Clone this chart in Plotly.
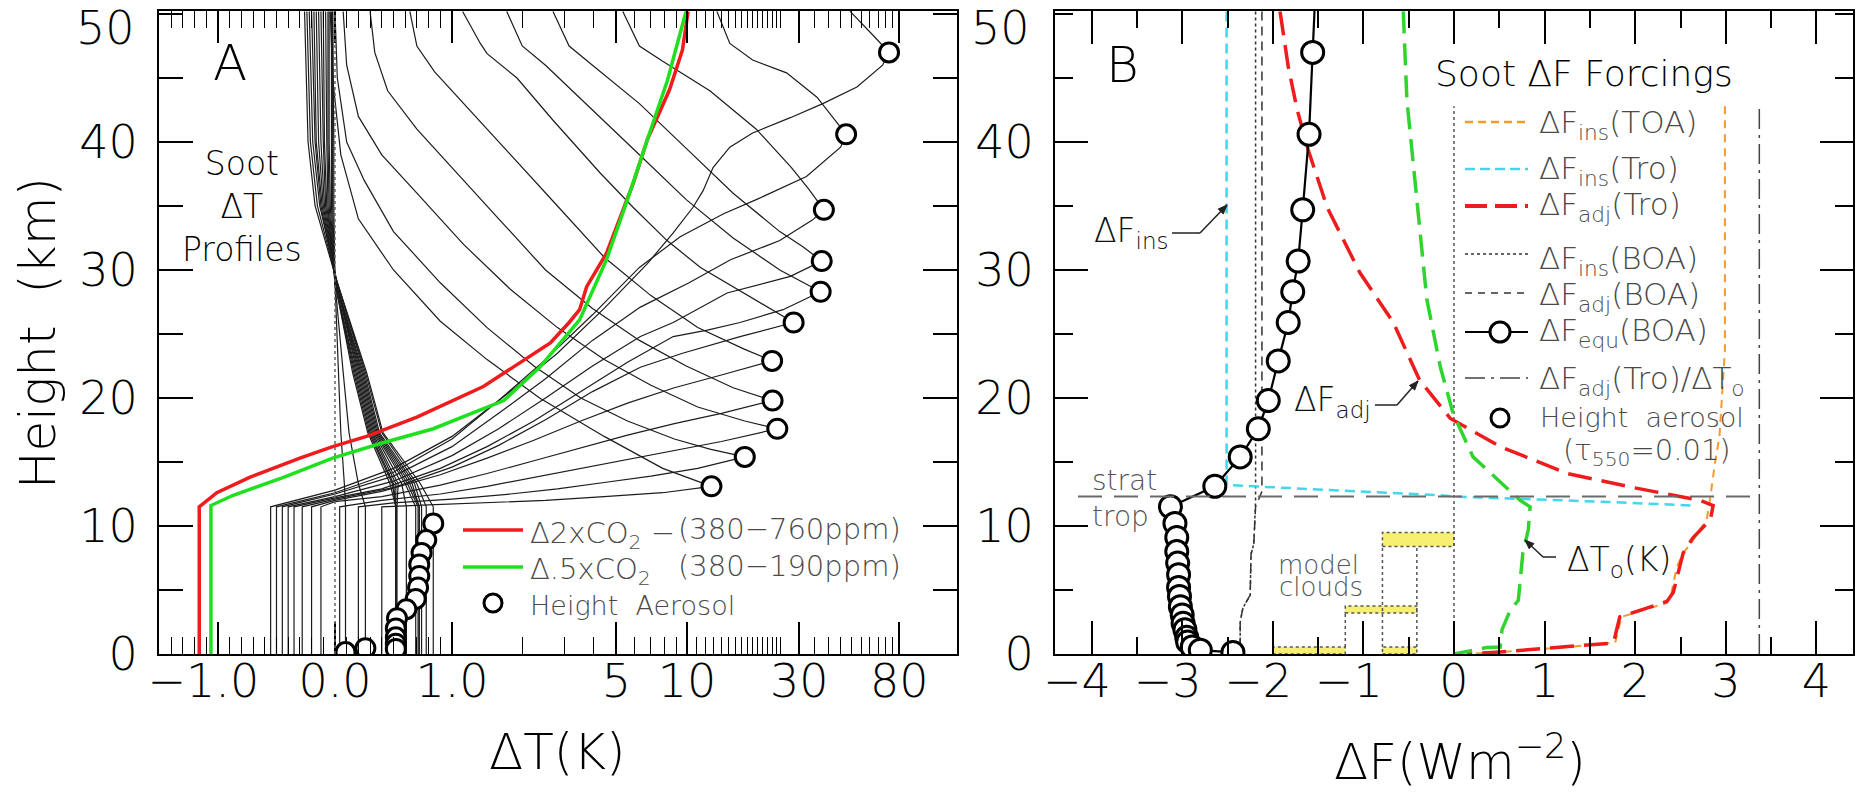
import numpy as np
import plotly.graph_objects as go

W, H = 1864, 794
FONT = "DejaVu Sans"
GRAY = "#4a4a4a"

# ------------------------------------------------------------------ Panel A data
LOG_STRETCH = 2.009          # x-scale: linear for dT <= 1 K, logarithmic above
TROPOPAUSE_A_KM = 11.5

STRAT_AEROSOL_KM = [47.0, 40.6, 34.7, 30.7, 28.3, 25.9, 22.9, 19.8, 17.6, 15.4, 13.1]
STRAT_PEAK_DT = [72.3, 47.5, 38.2, 37.4, 37.0, 28.4, 23.0, 23.1, 24.2, 17.6, 12.7]
STRAT_TROP_DT = [-0.55, -0.50, -0.45, -0.40, -0.35, -0.28, -0.20, -0.12, 0.04, 0.20, 0.40]

STRAT_LOWER_DT = [
    [0.0, 0.5, 1.0, 1.77, 2.81, 4.44, 6.78, 8.73, 10.6, 11.7, 12.9, 15.2, 19.0, 27.5, 37.8, 52.8, 67.9],
    [0.0, 0.5, 1.0, 1.58, 2.50, 3.96, 6.27, 9.35, 14.3, 19.7, 32.2, 45.0],
    [0.0, 0.5, 1.0, 1.58, 2.50, 3.96, 6.33, 10.2, 15.3, 24.8, 34.1],
    [0.0, 0.5, 1.0, 1.58, 2.50, 3.96, 6.33, 8.73, 14.8, 27.5],
    [0.0, 0.4, 0.9, 1.41, 2.23, 3.53, 5.58, 8.73, 12.2, 16.8, 25.6],
    [0.0, 0.5, 1.0, 1.58, 2.50, 3.96, 6.33, 9.57, 16.8],
    [0.0, 0.4, 0.9, 1.41, 2.23, 3.53, 5.58, 8.83, 14.0],
    [0.0, 0.4, 0.9, 1.41, 2.23, 3.53, 5.58, 8.83, 14.0],
    [0.4, 0.9, 1.41, 2.23, 3.53, 5.58, 8.83, 14.0],
    [0.5, 1.0, 1.77, 2.81, 4.44, 7.02, 11.1],
    [0.8, 1.41, 2.50, 4.44, 7.88],
]
STRAT_LOWER_KM = [
    [12.8, 14.5, 17.0, 20.5, 23.5, 27.0, 30.5, 32.9, 34.9, 36.2, 38.0, 39.6, 40.7, 41.9, 43.0, 44.3, 46.0],
    [12.6, 14.2, 16.8, 19.8, 23.0, 26.5, 30.2, 32.6, 34.4, 35.5, 37.3, 39.6],
    [12.5, 13.9, 16.2, 18.8, 21.5, 24.5, 27.1, 29.0, 30.8, 32.3, 33.9],
    [12.3, 13.5, 15.5, 17.6, 20.0, 22.5, 24.8, 25.9, 28.2, 29.5],
    [12.2, 12.9, 14.5, 16.2, 18.2, 20.5, 22.8, 24.8, 25.3, 25.9, 26.9],
    [12.1, 13.0, 14.6, 16.3, 18.3, 20.5, 22.4, 23.5, 24.8],
    [12.0, 12.7, 14.0, 15.3, 16.7, 18.2, 19.6, 20.8, 21.8],
    [11.9, 12.3, 13.2, 14.1, 15.1, 16.1, 17.1, 18.0, 18.8],
    [12.0, 12.5, 13.1, 13.8, 14.5, 15.2, 15.9, 16.6],
    [11.8, 12.1, 12.5, 12.9, 13.4, 13.9, 14.5],
    [11.65, 11.8, 12.0, 12.3, 12.6],
]
STRAT_UPPER_DT = [
    [62.1, 49.4],
    [35.7, 26.5, 19.0, 15.2, 13.4],
    [33.0, 27.8, 19.7, 12.5, 7.88, 6.27, 5.33],
    [31.2, 24.8, 15.7, 9.92, 6.27, 3.96, 3.15, 2.69],
    [31.2, 24.8, 15.7, 9.92, 6.27, 3.96, 2.50, 1.99, 1.71],
    [11.4, 8.22, 5.89, 4.26, 2.69, 1.89, 1.41, 1.32, 1.11],
    [17.6, 11.1, 7.02, 4.44, 2.81, 1.77, 1.12, 0.85, 0.70, 0.64],
    [15.7, 9.92, 6.27, 3.96, 2.50, 1.58, 1.0, 0.70, 0.45, 0.34, 0.30],
    [17.6, 11.1, 7.02, 4.44, 2.81, 1.77, 1.12, 0.70, 0.40, 0.20, 0.10, 0.07],
    [12.5, 8.83, 5.58, 3.53, 2.23, 1.41, 0.90, 0.50, 0.25, 0.10, 0.02, 0.0],
    [9.92, 7.88, 4.44, 2.36, 1.41, 0.90, 0.50, 0.20, 0.05, -0.02, -0.04],
]
STRAT_UPPER_KM = [
    [48.3, 50.2],
    [43.5, 45.4, 46.4, 47.7, 50.2],
    [36.3, 38.0, 41.0, 44.0, 46.3, 47.5, 50.2],
    [31.8, 33.0, 36.0, 39.5, 43.0, 46.0, 47.5, 50.2],
    [29.0, 30.0, 32.5, 35.5, 39.0, 42.5, 46.0, 47.5, 50.2],
    [30.2, 32.3, 34.9, 37.6, 41.7, 45.0, 46.9, 47.7, 50.2],
    [23.8, 25.5, 28.0, 31.0, 35.0, 39.0, 43.0, 45.5, 47.5, 50.2],
    [20.8, 22.5, 24.5, 27.0, 30.0, 34.0, 38.0, 41.0, 44.0, 47.0, 50.2],
    [18.2, 19.3, 21.0, 23.0, 25.5, 28.5, 32.0, 36.0, 39.0, 42.0, 46.0, 50.2],
    [16.0, 16.8, 18.2, 20.0, 22.5, 25.5, 29.0, 33.0, 37.0, 40.0, 45.0, 50.2],
    [13.8, 14.5, 17.0, 20.0, 23.0, 26.0, 30.0, 34.0, 39.0, 45.0, 50.2],
]

TROP_AEROSOL_KM = [10.2, 8.9, 7.9, 7.0, 6.1, 5.2, 4.3, 3.5, 2.8, 2.0, 1.3, 0.8, 0.4, 0.45, 0.15]
TROP_SURFACE_DT = [0.84, 0.78, 0.74, 0.72, 0.72, 0.71, 0.69, 0.61, 0.53, 0.52, 0.52, 0.52, 0.52, 0.26, 0.09]
TROP_STRAT_KM = [13.3, 17.3, 22.0, 29.0, 35.0, 40.0, 50.2]
TROP_STRAT_DT = [
    [0.73, 0.41, 0.27, 0.02, -0.17, -0.23, -0.26],
    [0.70, 0.40, 0.26, 0.02, -0.15, -0.21, -0.24],
    [0.68, 0.38, 0.25, 0.02, -0.13, -0.19, -0.22],
    [0.66, 0.37, 0.24, 0.01, -0.12, -0.17, -0.20],
    [0.64, 0.36, 0.23, 0.01, -0.11, -0.16, -0.18],
    [0.62, 0.35, 0.22, 0.01, -0.10, -0.14, -0.16],
    [0.60, 0.34, 0.21, 0.01, -0.09, -0.12, -0.14],
    [0.57, 0.33, 0.20, 0.01, -0.08, -0.10, -0.12],
    [0.54, 0.32, 0.19, 0.01, -0.07, -0.09, -0.10],
    [0.52, 0.31, 0.18, 0.00, -0.06, -0.07, -0.08],
    [0.50, 0.30, 0.17, 0.00, -0.05, -0.06, -0.06],
    [0.49, 0.29, 0.16, 0.00, -0.04, -0.05, -0.05],
    [0.47, 0.28, 0.15, 0.00, -0.03, -0.03, -0.03],
    [0.20, 0.12, 0.07, 0.00, -0.02, -0.02, -0.02],
    [0.08, 0.05, 0.03, 0.00, -0.01, -0.01, -0.02],
]

CO2_X2_DT = [-1.16, -1.16, -1.01, -0.73, -0.30, -0.02, 0.27, 0.70, 1.36, 2.62, 3.15, 3.49, 3.74, 4.54, 5.91, 6.78, 8.43, 9.56, 10.1]
CO2_X2_KM = [0.0, 11.5, 12.6, 13.8, 15.3, 16.2, 17.0, 18.5, 20.9, 24.3, 25.9, 26.9, 28.7, 31.3, 36.8, 40.2, 44.1, 47.2, 50.2]
CO2_HALF_DT = [-1.06, -1.06, -0.87, -0.44, -0.02, 0.41, 0.84, 1.66, 2.36, 3.49, 4.54, 5.58, 6.78, 8.25, 9.9]
CO2_HALF_KM = [0.0, 11.6, 12.4, 13.8, 15.3, 16.5, 17.6, 19.8, 22.4, 26.1, 30.8, 35.5, 40.2, 44.8, 50.2]

A_TICK_VALUES = [-1.0, 0.0, 1.0, 5.0, 10.0, 30.0, 80.0]
A_TICK_LABELS = ["\u22121.0\u2007", "0.0", "1.0", "5", "10", "30", "80"]

# ------------------------------------------------------------------ Panel B data
EQU_F = [-1.52, -1.56, -1.60, -1.67, -1.72, -1.78, -1.83, -1.94, -2.05, -2.16, -2.36, -2.64,
         -3.13, -3.08, -3.06, -3.06, -3.05, -3.04, -3.04, -3.03, -3.02, -3.00, -2.99, -2.97,
         -2.95, -2.94, -2.89, -2.80, -2.44]
EQU_KM = [53.4, 47.0, 40.6, 34.7, 30.7, 28.3, 25.9, 22.9, 19.8, 17.6, 15.4, 13.1,
          11.5, 10.2, 9.1, 8.0, 7.1, 6.2, 5.2, 4.5, 3.7, 3.05, 2.4, 1.9,
          1.3, 0.94, 0.55, 0.3, 0.12]

ADJ_TRO_F = [-1.92, -1.83, -1.73, -1.61, -1.40, -1.04, -0.67, -0.38, -0.04, 0.51, 1.25, 1.98, 2.72, 2.86,
             2.83, 2.64, 2.53, 2.49, 2.42, 2.35, 1.83, 1.76, 1.25, 0.51, 0.14]
ADJ_TRO_KM = [50.2, 45.9, 42.5, 39.4, 34.9, 29.8, 25.9, 21.4, 18.4, 16.2, 14.1, 13.0, 12.0, 11.6,
              10.5, 9.1, 7.9, 6.8, 4.8, 4.1, 2.9, 0.86, 0.55, 0.16, 0.0]

INS_TOA_F = [2.99, 2.99, 2.93, 2.88, 2.83, 2.79, 2.60, 2.53, 2.46, 2.40, 2.35, 1.85, 1.78, 1.27, 0.52, 0.15]
INS_TOA_KM = [42.8, 23.7, 17.0, 14.9, 12.3, 10.5, 8.5, 7.9, 6.8, 4.8, 4.0, 2.9, 0.9, 0.55, 0.16, 0.0]

INS_TRO_F = [-2.51, -2.51, -0.15, 0.0, 1.61, 2.64]
INS_TRO_KM = [50.2, 13.2, 12.4, 12.3, 11.9, 11.6]

INS_BOA_F = [-2.19, -2.19, -2.21, -2.24, -2.25, -2.33, -2.36, -2.36]
INS_BOA_KM = [50.2, 12.0, 8.6, 7.8, 4.6, 3.6, 2.5, 0.3]
ADJ_BOA_F = [-2.12, -2.12, -2.19, -2.21, -2.24, -2.25, -2.33, -2.36, -2.36]
ADJ_BOA_KM = [50.2, 12.7, 11.5, 8.6, 7.8, 4.6, 3.6, 2.5, 0.3]

RATIO_F = [3.37, 3.37]
RATIO_KM = [0.0, 43.0]
ZERO_F = [0.0, 0.0]
ZERO_KM = [0.0, 42.8]

DTO_K = [-0.56, -0.52, -0.41, -0.30, -0.15, -0.01, 0.21, 0.51, 0.73, 0.84, 0.82, 0.76, 0.71, 0.62, 0.53, 0.51, 0.36, 0.0]
DTO_KM = [50.2, 43.3, 35.5, 27.7, 22.4, 18.8, 15.4, 13.4, 12.0, 11.5, 9.7, 7.9, 4.2, 3.4, 1.9, 0.55, 0.5, 0.0]

TROPOPAUSE_B_KM = 12.3
TROPOPAUSE_B_F = [-4.15, 3.36]

CLOUD_F0 = [-2.0, -0.79, -1.2, -0.79]
CLOUD_F1 = [-1.2, -0.41, -0.41, 0.0]
CLOUD_KM0 = [0.0, 0.0, 3.2, 8.4]
CLOUD_KM1 = [0.55, 0.55, 3.75, 9.5]
CLOUD_LINK_F = [-1.2, -0.79, -0.41]
CLOUD_LINK_TOP = [3.2, 8.4, 8.4]
CLOUD_LINK_BOT = 0.55

B_TICK_VALUES = [-4, -3, -2, -1, 0, 1, 2, 3, 4]
B_TICK_LABELS = ["\u22124\u2007", "\u22123\u2007", "\u22122\u2007", "\u22121\u2007", "0", "1", "2", "3", "4"]
Y_TICK_VALUES = [0, 10, 20, 30, 40]
Y_TICK_LABELS = ["0", "10", "20", "30", "40"]

RED = "#ee1c1c"
GREEN_A = "#1fe01f"
GREEN_B = "#2fd42f"
CYAN = "#45d6ea"
ORANGE = "#f39a2c"
WEIGHT = 300


def dts(v):
    v = np.asarray(v, dtype=float)
    out = v.copy()
    m = v > 1.0
    out[m] = 1.0 + LOG_STRETCH * np.log10(v[m])
    return out


fig = go.Figure()

# ------------------------------------------------------------------ Panel A traces
def line_a(x, y, color, width, dash="solid"):
    fig.add_trace(go.Scatter(x=dts(x), y=y, mode="lines", xaxis="x", yaxis="y",
                             line=dict(color=color, width=width, dash=dash),
                             hoverinfo="skip", showlegend=False))

for i in range(len(STRAT_AEROSOL_KM)):
    xs = [STRAT_TROP_DT[i], STRAT_TROP_DT[i]] + STRAT_LOWER_DT[i] + [STRAT_PEAK_DT[i]] + STRAT_UPPER_DT[i]
    ys = [0.0, TROPOPAUSE_A_KM] + STRAT_LOWER_KM[i] + [STRAT_AEROSOL_KM[i]] + STRAT_UPPER_KM[i]
    line_a(xs, ys, "#1c1c1c", 1.2)

for i in range(len(TROP_AEROSOL_KM)):
    xs = [TROP_SURFACE_DT[i], TROP_SURFACE_DT[i]] + TROP_STRAT_DT[i]
    ys = [0.0, TROPOPAUSE_A_KM] + TROP_STRAT_KM
    line_a(xs, ys, "#1c1c1c", 1.2)

fig.add_shape(type="line", xref="x", yref="y domain", x0=0, x1=0, y0=0, y1=1,
              line=dict(color="#666666", width=1.5, dash="dot"))

line_a(CO2_X2_DT, CO2_X2_KM, RED, 3.5)
line_a(CO2_HALF_DT, CO2_HALF_KM, GREEN_A, 3.5)

fig.add_trace(go.Scatter(x=dts(STRAT_PEAK_DT + TROP_SURFACE_DT), y=STRAT_AEROSOL_KM + TROP_AEROSOL_KM,
                         mode="markers", xaxis="x", yaxis="y", hoverinfo="skip", showlegend=False,
                         marker=dict(symbol="circle", size=19, color="white",
                                     line=dict(color="black", width=3))))

# ------------------------------------------------------------------ Panel B traces
def line_b(x, y, color, width, dash="solid", mode="lines", marker=None):
    fig.add_trace(go.Scatter(x=x, y=y, mode=mode, xaxis="x2", yaxis="y2",
                             line=dict(color=color, width=width, dash=dash), marker=marker,
                             hoverinfo="skip", showlegend=False))

for f0, f1, k0, k1 in zip(CLOUD_F0, CLOUD_F1, CLOUD_KM0, CLOUD_KM1):
    fig.add_shape(type="rect", xref="x2", yref="y2", x0=f0, x1=f1, y0=k0, y1=k1,
                  fillcolor="#f6ef72", line=dict(color="#555555", width=1.5, dash="dot"), layer="below")
for f, top in zip(CLOUD_LINK_F, CLOUD_LINK_TOP):
    fig.add_shape(type="line", xref="x2", yref="y2", x0=f, x1=f, y0=CLOUD_LINK_BOT, y1=top,
                  line=dict(color="#555555", width=1.5, dash="dot"), layer="below")

fig.add_shape(type="line", xref="x2", yref="y2", x0=TROPOPAUSE_B_F[0], x1=TROPOPAUSE_B_F[1],
              y0=TROPOPAUSE_B_KM, y1=TROPOPAUSE_B_KM,
              line=dict(color="#6a6a6a", width=2, dash="24px,12px"))

line_b(ZERO_F, ZERO_KM, "#555555", 1.5, "dot")
line_b(RATIO_F, RATIO_KM, "#444444", 1.5, "20px,6px,3px,6px")
line_b(INS_BOA_F, INS_BOA_KM, "#333333", 1.5, "dot")
line_b(ADJ_BOA_F, ADJ_BOA_KM, "#333333", 1.5, "9px,6px")
line_b(INS_TRO_F, INS_TRO_KM, CYAN, 2.5, "10px,6px")
line_b(INS_TOA_F, INS_TOA_KM, ORANGE, 2.0, "8px,6px")
line_b(ADJ_TRO_F, ADJ_TRO_KM, RED, 3.5, "24px,10px")
line_b(DTO_K, DTO_KM, GREEN_B, 3.5, "22px,10px")
line_b(EQU_F, EQU_KM, "black", 2.2, mode="lines+markers",
       marker=dict(symbol="circle", size=22, color="white", line=dict(color="black", width=3)))

# ------------------------------------------------------------------ axes
YDOM = [1 - 654 / H, 1 - 11 / H]
YMAX = (654 - 11) / 12.8

common = dict(showline=True, linecolor="black", linewidth=2, mirror="ticks", ticks="inside",
              tickcolor="black", tickwidth=1.6, showgrid=False, zeroline=False, automargin=False,
              tickangle=0, tickfont=dict(family=FONT, size=46, color="black", weight=WEIGHT))

a_minor = sorted(set(np.round(np.arange(-1.5, 1.0, 0.1), 2)) - {-1.0, 0.0}) + \
    [2, 3, 4, 6, 7, 8, 9] + list(range(11, 26)) + list(range(35, 80, 5))

fig.update_layout(
    width=W, height=H, autosize=False, paper_bgcolor="white", plot_bgcolor="white",
    margin=dict(l=0, r=0, t=0, b=0, autoexpand=False), showlegend=False,
    xaxis=dict(domain=[159 / W, 957 / W], range=[-1.504, 5.316], anchor="y",
               tickmode="array", tickvals=dts(A_TICK_VALUES), ticktext=A_TICK_LABELS, ticklen=32,
               minor=dict(tickmode="array", tickvals=dts(a_minor), ticklen=17, ticks="inside",
                          tickcolor="black", tickwidth=1.3),
               ticklabelstandoff=-14, **common),
    yaxis=dict(domain=YDOM, range=[0, YMAX], anchor="x", tickmode="array",
               tickvals=Y_TICK_VALUES, ticktext=Y_TICK_LABELS, ticklen=34,
               minor=dict(tickmode="linear", tick0=0, dtick=5, ticklen=24, ticks="inside",
                          tickcolor="black", tickwidth=1.6),
               ticklabelstandoff=10, **common),
    xaxis2=dict(domain=[1055 / W, 1853 / W], range=[-4.404, 4.404], anchor="y2",
                tickmode="array", tickvals=B_TICK_VALUES, ticktext=B_TICK_LABELS, ticklen=33,
                minor=dict(tickmode="linear", tick0=0, dtick=0.5, ticklen=17, ticks="inside",
                           tickcolor="black", tickwidth=1.6),
                ticklabelstandoff=-14, **common),
    yaxis2=dict(domain=YDOM, range=[0, YMAX], anchor="x2", tickmode="array",
                tickvals=Y_TICK_VALUES, ticktext=Y_TICK_LABELS, ticklen=33,
                minor=dict(tickmode="linear", tick0=0, dtick=5, ticklen=18, ticks="inside",
                           tickcolor="black", tickwidth=1.6),
                ticklabelstandoff=10, **common),
)

# ------------------------------------------------------------------ text helpers (pixel placement)
def ann(text, x, y, size, color="black", xanchor="center", yanchor="middle", angle=0, align="center"):
    fig.add_annotation(text=text, x=x / W, y=1 - y / H, xref="paper", yref="paper", showarrow=False,
                       font=dict(family=FONT, size=size, color=color, weight=WEIGHT), xanchor=xanchor,
                       yanchor=yanchor, textangle=angle, align=align)


def seg(x0, y0, x1, y1, color, width, dash="solid"):
    fig.add_shape(type="line", xref="paper", yref="paper", x0=x0 / W, y0=1 - y0 / H,
                  x1=x1 / W, y1=1 - y1 / H, line=dict(color=color, width=width, dash=dash))


def ring(cx, cy, r, width=3):
    fig.add_shape(type="circle", xref="paper", yref="paper", x0=(cx - r) / W, x1=(cx + r) / W,
                  y0=1 - (cy + r) / H, y1=1 - (cy - r) / H, fillcolor="white",
                  line=dict(color="black", width=width))


def arrow(tail_x, tail_y, tip_x, tip_y, head=9.0, half=3.5):
    seg(tail_x, tail_y, tip_x, tip_y, "#222222", 1.5)
    dx, dy = tip_x - tail_x, tip_y - tail_y
    n = (dx * dx + dy * dy) ** 0.5
    ux, uy = dx / n, dy / n
    bx, by = tip_x - ux * head, tip_y - uy * head
    p1 = (bx - uy * half, by + ux * half)
    p2 = (bx + uy * half, by - ux * half)
    pts = [(tip_x, tip_y), p1, p2]
    path = "M " + " L ".join(f"{px / W:.6f},{1 - py / H:.6f}" for px, py in pts) + " Z"
    fig.add_shape(type="path", xref="paper", yref="paper", path=path,
                  fillcolor="#222222", line=dict(color="#222222", width=1))


# y tick label "50" sits lower in the original
ann("50", 137, 28, 46, xanchor="right")
ann("50", 1032, 28, 46, xanchor="right")

# axis titles
ann("Height  (km)", 38, 333, 50, angle=-90)
ann("\u0394T(K)", 557, 752, 50)
ann("\u0394F(Wm<sup>\u22122</sup>)", 1460, 758, 50)

# Panel A labels
ann("A", 230, 63, 50)
ann("Soot<br>\u0394T<br>Profiles", 242, 206, 33)

seg(463, 530, 523, 530, RED, 3.5)
seg(463, 567, 523, 567, GREEN_A, 3.5)
ring(493, 603, 9)
ann("\u03942xCO<sub>2</sub> \u2212", 528, 535, 29, GRAY, xanchor="left")
ann("(380\u2212760ppm)", 676, 529, 29, GRAY, xanchor="left")
ann("\u0394.5xCO<sub>2</sub>", 528, 571, 29, GRAY, xanchor="left")
ann("(380\u2212190ppm)", 676, 566, 29, GRAY, xanchor="left")
ann("Height  Aerosol", 528, 605, 27, GRAY, xanchor="left")

# Panel B labels
ann("B", 1122, 65, 50)
ann("Soot \u0394F Forcings", 1433, 73, 36, xanchor="left")

LX0, LX1, LTX = 1465, 1528, 1537
seg(LX0, 122, LX1, 122, ORANGE, 2.5, "8px,5px")
seg(LX0, 169, LX1, 169, CYAN, 2.5, "10px,5px")
seg(LX0, 206, LX1, 206, RED, 4, "22px,8px")
seg(LX0, 254, LX1, 254, "#333333", 1.5, "dot")
seg(LX0, 293, LX1, 293, "#333333", 1.5, "7px,6px")
seg(LX0, 332, LX1, 332, "black", 2.2)
ring(1500, 332, 10)
seg(LX0, 378, LX1, 378, "#444444", 1.5, "20px,6px,3px,6px")
ring(1500, 418, 9)

ann("\u0394F<sub>ins</sub>(TOA)", LTX, 125, 31, GRAY, xanchor="left")
ann("\u0394F<sub>ins</sub>(Tro)", LTX, 170, 31, GRAY, xanchor="left")
ann("\u0394F<sub>adj</sub>(Tro)", LTX, 206, 31, GRAY, xanchor="left")
ann("\u0394F<sub>ins</sub>(BOA)", LTX, 260, 31, GRAY, xanchor="left")
ann("\u0394F<sub>adj</sub>(BOA)", LTX, 296, 31, GRAY, xanchor="left")
ann("\u0394F<sub>equ</sub>(BOA)", LTX, 333, 31, GRAY, xanchor="left")
ann("\u0394F<sub>adj</sub>(Tro)/\u0394T<sub>o</sub>", LTX, 380, 31, GRAY, xanchor="left")
ann("Height  aerosol", 1538, 417, 27, GRAY, xanchor="left")
ann("(\u03c4<sub>550</sub>=0.01)", 1647, 452, 29, GRAY)

# in-plot annotations with bent arrows
ann("\u0394F<sub>ins</sub>", 1092, 233, 33, "#111111", xanchor="left")
seg(1172, 233, 1200, 233, "#222222", 1.5)
arrow(1200, 233, 1227, 205)

ann("\u0394F<sub>adj</sub>", 1292, 401, 33, "#111111", xanchor="left")
seg(1375, 405, 1397, 405, "#222222", 1.5)
arrow(1397, 405, 1418, 381)

ann("\u0394T<sub>o</sub>(K)", 1565, 561, 33, "#111111", xanchor="left")
seg(1556, 557, 1543, 557, "#222222", 1.5)
arrow(1543, 557, 1525, 540)

ann("strat<br>trop", 1090, 498, 28, "#555555", xanchor="left", align="left")
ann("model", 1318, 565, 26, "#555555")
ann("clouds", 1321, 587, 26, "#555555")

fig.write_html("out.html")
